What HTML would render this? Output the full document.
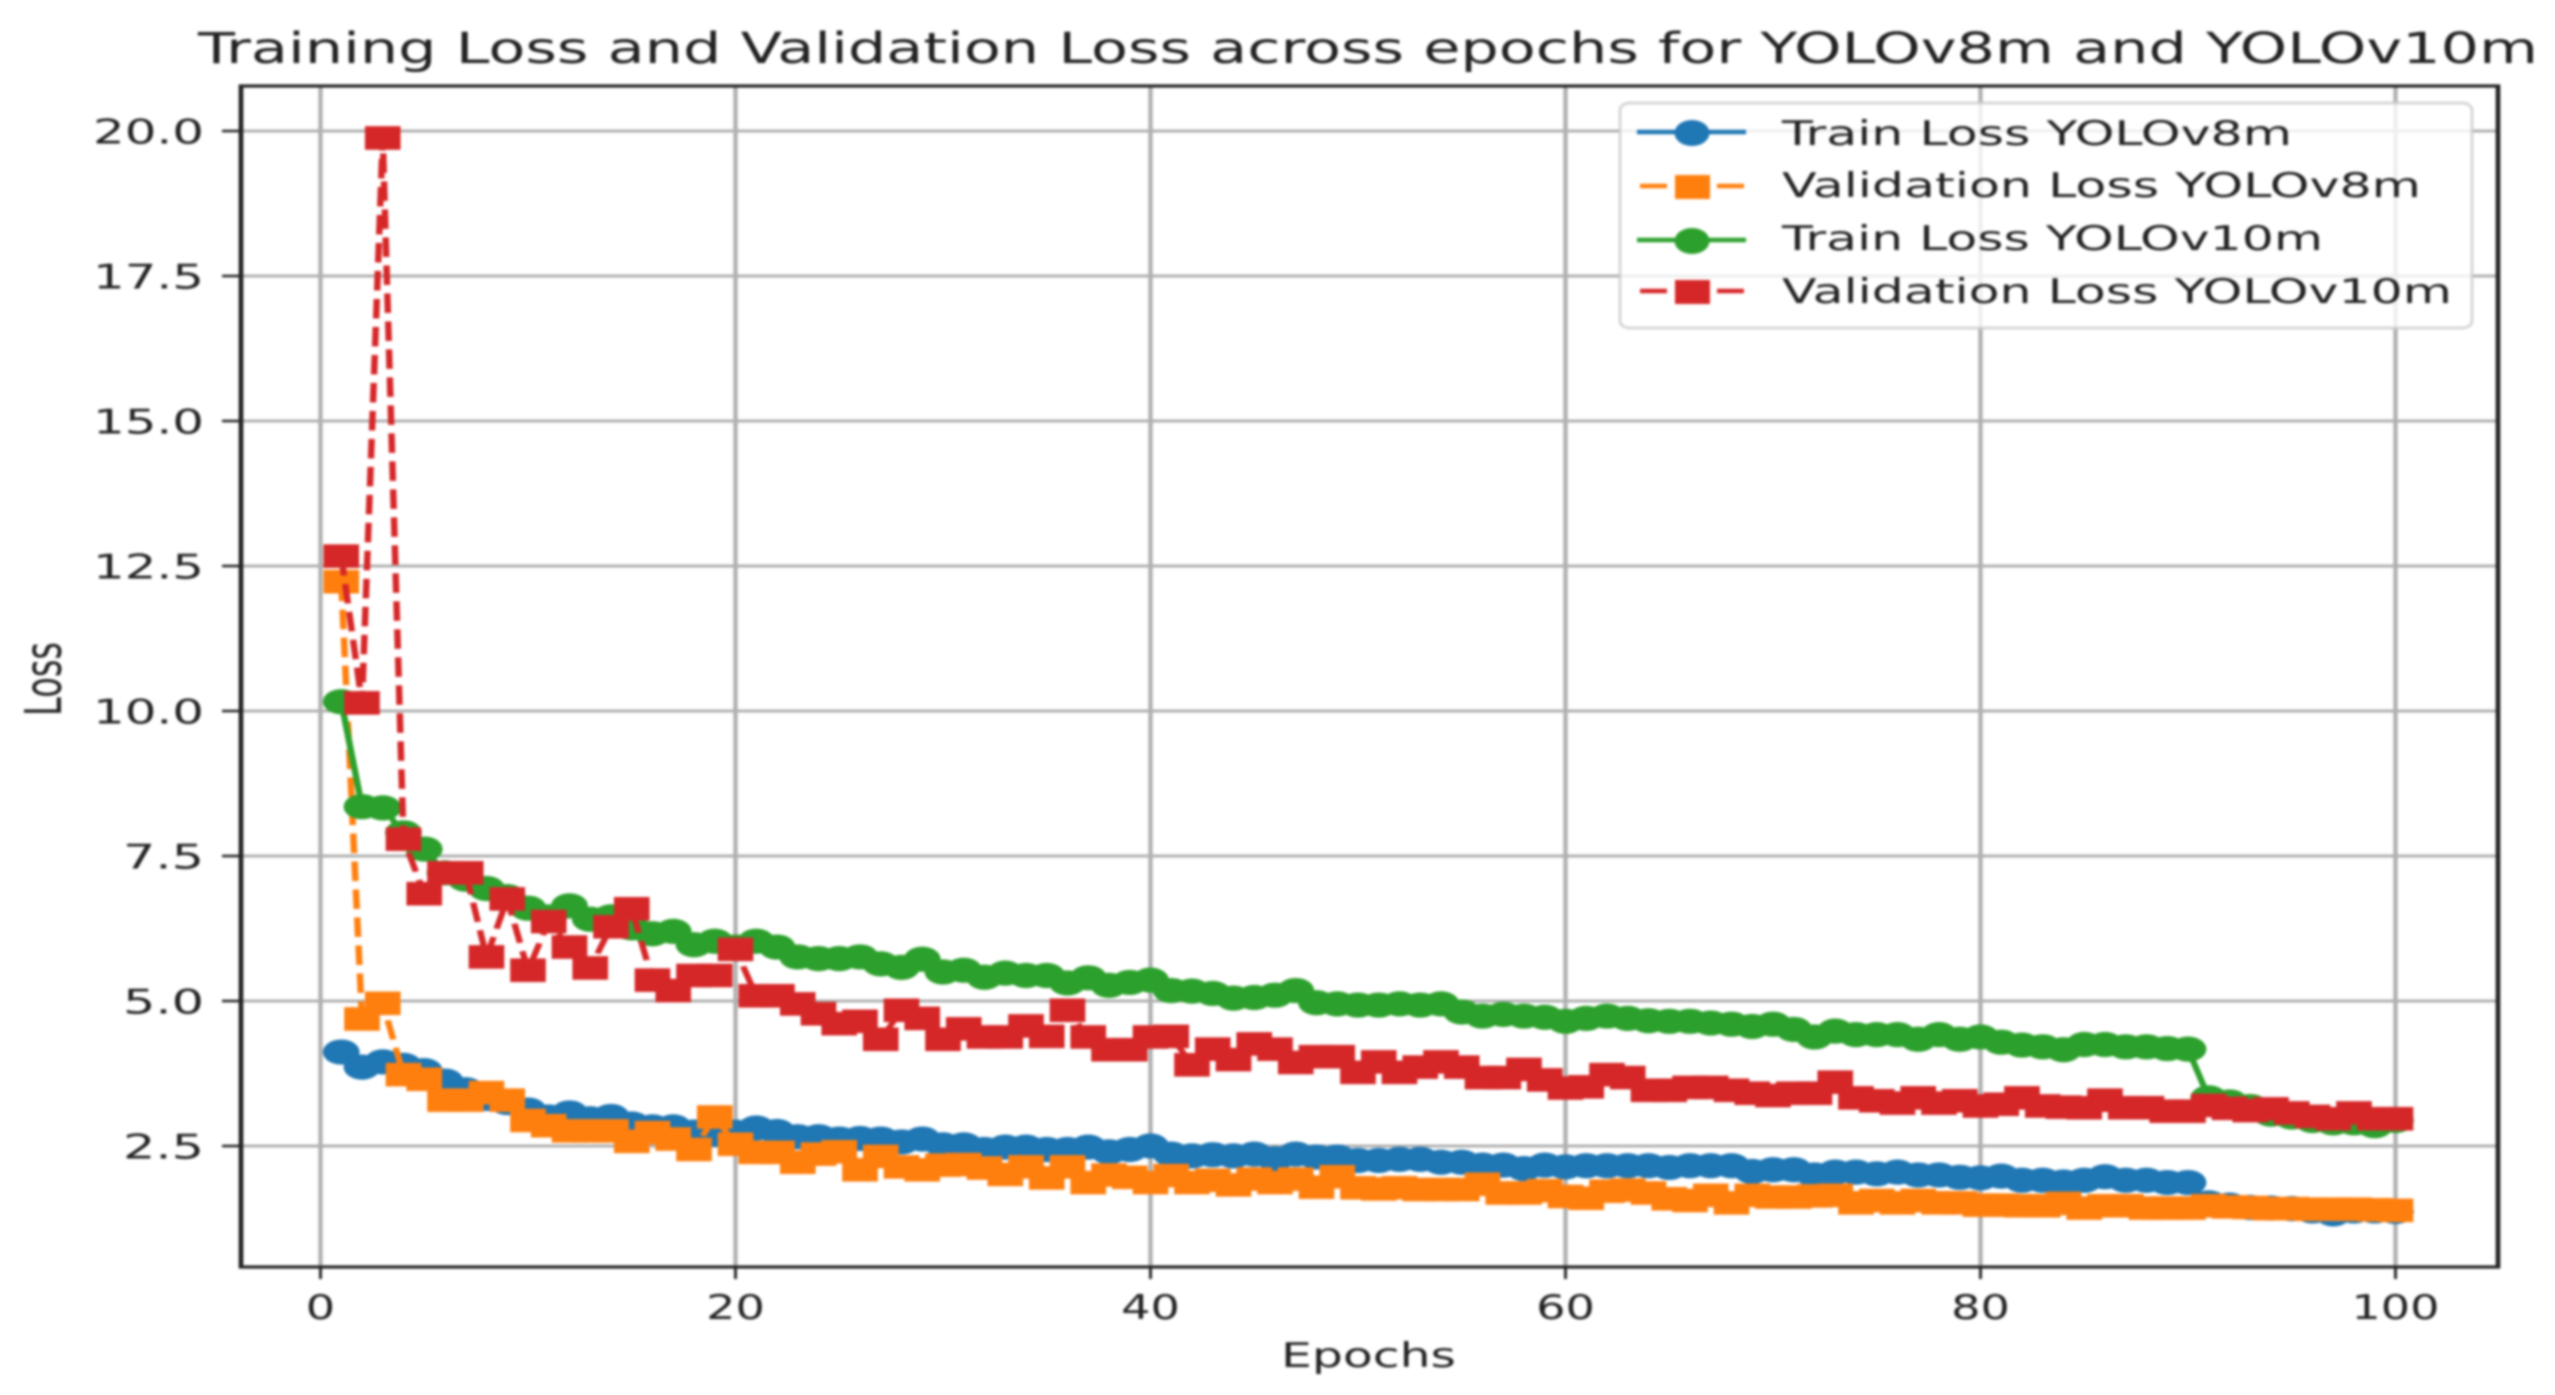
<!DOCTYPE html>
<html lang="en">
<head>
<meta charset="utf-8">
<title>Training Loss and Validation Loss across epochs</title>
<style>
  html, body { margin: 0; padding: 0; background: #ffffff; }
  body { width: 2555px; height: 1395px; overflow: hidden; }
  svg { display: block; filter: blur(1.4px); }
  text { font-family: "DejaVu Sans", "Liberation Sans", sans-serif; fill: #222222; }
</style>
</head>
<body>
<svg id="chart" width="2555" height="1395" viewBox="0 0 2555 1395" xmlns="http://www.w3.org/2000/svg">
  <rect x="0" y="0" width="2555" height="1395" fill="#ffffff"/>
  <g id="grid" transform="scale(1.46,1)"></g>
  <g id="marks" transform="scale(1.46,1)"></g>
  <g id="axes" transform="scale(1.46,1)"></g>
  <g id="tick-labels"></g>

  <text x="198" y="63" font-size="43" textLength="2340" lengthAdjust="spacingAndGlyphs">Training Loss and Validation Loss across epochs for YOLOv8m and YOLOv10m</text>
  <text x="1281" y="1367" font-size="34" textLength="175" lengthAdjust="spacingAndGlyphs">Epochs</text>
  <text transform="translate(61,716) scale(1.5,1) rotate(-90)" font-size="34" textLength="74" lengthAdjust="spacingAndGlyphs">Loss</text>

  <g>
    <rect x="1620" y="103" width="852" height="225" rx="10" ry="7" fill="#ffffff" fill-opacity="0.8" stroke="#cccccc" stroke-opacity="0.8" stroke-width="3"/>

    <g>
      <line x1="1637" y1="132" x2="1746" y2="132" stroke="#1f77b4" stroke-width="4.6"/>
      <ellipse cx="1692" cy="133" rx="17.5" ry="13" fill="#1f77b4"/>
      <text x="1782" y="145" font-size="34" textLength="510" lengthAdjust="spacingAndGlyphs">Train Loss YOLOv8m</text>
    </g>
    <g>
      <line x1="1640" y1="186" x2="1744" y2="186" stroke="#ff7f0e" stroke-width="4.6" stroke-dasharray="27 50 27"/>
      <rect x="1675" y="175" width="35" height="24" fill="#ff7f0e"/>
      <text x="1782" y="197" font-size="34" textLength="639" lengthAdjust="spacingAndGlyphs">Validation Loss YOLOv8m</text>
    </g>
    <g>
      <line x1="1637" y1="240" x2="1746" y2="240" stroke="#2ca02c" stroke-width="4.6"/>
      <ellipse cx="1692" cy="241" rx="17.5" ry="13" fill="#2ca02c"/>
      <text x="1782" y="250" font-size="34" textLength="541" lengthAdjust="spacingAndGlyphs">Train Loss YOLOv10m</text>
    </g>
    <g>
      <line x1="1640" y1="291" x2="1744" y2="291" stroke="#d62728" stroke-width="4.6" stroke-dasharray="27 50 27"/>
      <rect x="1675" y="280" width="35" height="24" fill="#d62728"/>
      <text x="1782" y="303" font-size="34" textLength="670" lengthAdjust="spacingAndGlyphs">Validation Loss YOLOv10m</text>
    </g>
  </g>
</svg>

<script>
const xTickValues = [0, 20, 40, 60, 80, 100];
const yTickValues = [2.5, 5, 7.5, 10, 12.5, 15, 17.5, 20];
const yTickLabels = ["2.5", "5.0", "7.5", "10.0", "12.5", "15.0", "17.5", "20.0"];

const trainLossV8 = [
  4.12,3.86,3.95,3.89,3.8,3.62,3.47,3.32,3.25,3.12,
  3.0,3.07,2.97,3.01,2.88,2.83,2.83,2.74,2.7,2.74,
  2.81,2.75,2.66,2.66,2.62,2.63,2.62,2.57,2.62,2.52,
  2.52,2.44,2.48,2.48,2.44,2.44,2.48,2.4,2.44,2.5,
  2.36,2.33,2.35,2.33,2.36,2.28,2.36,2.31,2.31,2.25,
  2.25,2.27,2.27,2.22,2.22,2.17,2.17,2.11,2.17,2.14,
  2.16,2.16,2.16,2.16,2.13,2.16,2.16,2.16,2.06,2.09,
  2.09,2.0,2.05,2.05,2.02,2.05,2.0,2.0,1.96,1.95,
  1.98,1.91,1.91,1.88,1.91,1.97,1.91,1.91,1.87,1.87,
  1.52,1.48,1.44,1.43,1.42,1.38,1.33,1.38,1.38,1.37
];
const valLossV8 = [
  12.23,4.69,4.96,3.73,3.65,3.29,3.29,3.42,3.29,2.94,
  2.85,2.76,2.76,2.76,2.58,2.73,2.62,2.44,3.0,2.53,
  2.39,2.39,2.22,2.36,2.4,2.09,2.32,2.14,2.09,2.17,
  2.18,2.12,2.01,2.14,1.95,2.14,1.87,2.0,1.96,1.87,
  1.99,1.87,1.91,1.83,1.93,1.87,1.93,1.79,1.97,1.78,
  1.76,1.78,1.75,1.75,1.75,1.84,1.69,1.69,1.73,1.63,
  1.6,1.72,1.74,1.69,1.59,1.56,1.65,1.52,1.65,1.62,
  1.62,1.64,1.65,1.52,1.56,1.52,1.56,1.52,1.52,1.48,
  1.48,1.47,1.47,1.51,1.43,1.47,1.47,1.43,1.43,1.43,
  1.47,1.45,1.44,1.42,1.42,1.41,1.41,1.41,1.4,1.39
];
const trainLossV10 = [
  10.16,8.35,8.33,7.9,7.62,7.21,7.1,6.94,6.8,6.6,
  6.45,6.64,6.41,6.45,6.26,6.16,6.2,5.97,6.03,5.93,
  6.03,5.93,5.76,5.73,5.73,5.76,5.64,5.58,5.72,5.5,
  5.53,5.41,5.48,5.44,5.44,5.31,5.4,5.27,5.32,5.36,
  5.18,5.17,5.13,5.05,5.06,5.1,5.18,4.97,4.95,4.93,
  4.93,4.95,4.93,4.95,4.81,4.74,4.77,4.74,4.72,4.65,
  4.7,4.74,4.7,4.66,4.65,4.65,4.62,4.6,4.56,4.6,
  4.51,4.38,4.48,4.42,4.42,4.42,4.34,4.42,4.34,4.38,
  4.29,4.24,4.21,4.16,4.25,4.25,4.21,4.21,4.18,4.17,
  3.33,3.26,3.18,3.05,3.0,2.94,2.9,2.9,2.85,2.94
];
const valLossV10 = [
  12.67,10.14,19.88,7.79,6.85,7.21,7.21,5.76,6.76,5.53,
  6.37,5.93,5.57,6.28,6.59,5.36,5.18,5.44,5.44,5.89,
  5.09,5.09,4.95,4.78,4.61,4.65,4.34,4.84,4.7,4.34,
  4.52,4.38,4.38,4.57,4.39,4.84,4.38,4.16,4.16,4.38,
  4.39,3.9,4.17,3.99,4.26,4.17,3.94,4.04,4.04,3.77,
  3.95,3.77,3.86,3.95,3.86,3.68,3.68,3.82,3.64,3.5,
  3.52,3.73,3.68,3.46,3.46,3.51,3.51,3.46,3.41,3.37,
  3.41,3.41,3.6,3.33,3.28,3.24,3.33,3.24,3.28,3.19,
  3.22,3.33,3.19,3.17,3.16,3.29,3.16,3.16,3.1,3.1,
  3.2,3.15,3.11,3.14,3.07,3.01,2.97,3.07,2.97,2.97
];

const NS = "http://www.w3.org/2000/svg";
const STRETCH = 1.46;
const PLOT = { left: 241, right: 2498, top: 86, bottom: 1267 };

function xPixel(epoch) { return 320.5 + 20.75 * epoch; }
function yPixel(loss) { return 1291 - 58 * loss; }
function xLocal(epoch) { return xPixel(epoch) / STRETCH; }

function make(tag, attrs, parent) {
  const el = document.createElementNS(NS, tag);
  for (const key in attrs) el.setAttribute(key, attrs[key]);
  parent.appendChild(el);
  return el;
}

const gridGroup = document.getElementById("grid");
const axesGroup = document.getElementById("axes");
const labelGroup = document.getElementById("tick-labels");
const marksGroup = document.getElementById("marks");
const GRID_COLOR = "#b0b0b0";
const AXIS_COLOR = "#222222";

xTickValues.forEach(function (tick) {
  const x = xLocal(tick);
  const gridLine = make("line", { x1: x, x2: x, y1: PLOT.top, y2: PLOT.bottom, stroke: GRID_COLOR, "stroke-width": 3 }, gridGroup);
  
  
  const tickMark = make("line", { x1: x, x2: x, y1: PLOT.bottom, y2: PLOT.bottom + 12, stroke: AXIS_COLOR, "stroke-width": 2 }, axesGroup);
  
  
  const text = String(tick);
  const width = text.length * 29.4;
  const label = make("text", { x: xPixel(tick) - width / 2, y: 1319, "font-size": 34, textLength: width, lengthAdjust: "spacingAndGlyphs" }, labelGroup);
  label.textContent = text;
  
  
});

yTickValues.forEach(function (tick, i) {
  const y = yPixel(tick);
  const gridLine = make("line", { x1: PLOT.left / STRETCH, x2: PLOT.right / STRETCH, y1: y, y2: y, stroke: GRID_COLOR, "stroke-width": 3 }, gridGroup);
  
  
  const tickMark = make("line", { x1: 222 / STRETCH, x2: PLOT.left / STRETCH, y1: y, y2: y, stroke: AXIS_COLOR, "stroke-width": 2.6 }, axesGroup);
  
  
  const text = yTickLabels[i];
  const width = text.length === 4 ? 111 : 81;
  const label = make("text", { x: 204 - width, y: y + 12.5, "font-size": 34, textLength: width, lengthAdjust: "spacingAndGlyphs" }, labelGroup);
  label.textContent = text;
  
  
});

const frame = make("rect", {
  x: PLOT.left / STRETCH, y: PLOT.top,
  width: (PLOT.right - PLOT.left) / STRETCH, height: PLOT.bottom - PLOT.top,
  fill: "none", stroke: AXIS_COLOR, "stroke-width": 3.2
}, axesGroup);



function drawSeries(values, color, kind, seriesName) {
  const group = make("g", {}, marksGroup);
  
  
  const points = values.map(function (v, i) { return xLocal(i + 1) + "," + yPixel(v); }).join(" ");
  const lineAttrs = { points: points, fill: "none", stroke: color, "stroke-width": 4.4, "stroke-linejoin": "round" };
  if (kind === "square") lineAttrs["stroke-dasharray"] = "19.5 8.5";
  const polyline = make("polyline", lineAttrs, group);
  
  
  values.forEach(function (v, i) {
    const cx = xLocal(i + 1);
    const cy = yPixel(v);
    let marker;
    if (kind === "square") {
      marker = make("rect", { x: cx - 12.2, y: cy - 11.8, width: 24.4, height: 23.6, fill: color }, group);
    } else {
      marker = make("circle", { cx: cx, cy: cy, r: 12.6, fill: color }, group);
    }
    
    
  });
}

drawSeries(trainLossV8, "#1f77b4", "circle", "train-loss-yolov8m");
drawSeries(valLossV8, "#ff7f0e", "square", "validation-loss-yolov8m");
drawSeries(trainLossV10, "#2ca02c", "circle", "train-loss-yolov10m");
drawSeries(valLossV10, "#d62728", "square", "validation-loss-yolov10m");
</script>
</body>
</html>
